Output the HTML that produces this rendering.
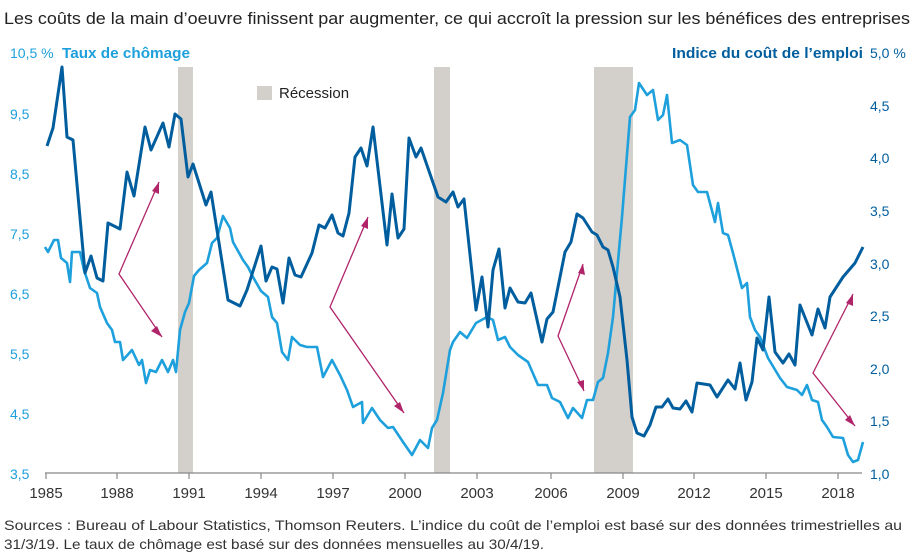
<!DOCTYPE html>
<html><head><meta charset="utf-8"><style>
body{margin:0;background:#fff;width:920px;height:554px;overflow:hidden;font-family:"Liberation Sans",sans-serif}
</style></head><body>
<svg width="920" height="554" xmlns="http://www.w3.org/2000/svg" font-family="Liberation Sans, sans-serif">
<text x="4" y="24" font-size="17" fill="#222" textLength="906" lengthAdjust="spacingAndGlyphs">Les coûts de la main d’oeuvre finissent par augmenter, ce qui accroît la pression sur les bénéfices des entreprises</text>
<g fill="#d3cfca">
<rect x="178" y="67" width="15" height="406"/>
<rect x="434" y="67" width="16" height="406"/>
<rect x="594" y="67" width="39" height="406"/>
<rect x="257" y="86" width="15" height="14"/>
</g>
<text x="279" y="98" font-size="15" fill="#222">Récession</text>
<g font-size="14" fill="#1ea0dc">
<text x="10" y="58">10,5 %</text><text x="62" y="58" font-weight="bold" font-size="15" textLength="128" lengthAdjust="spacingAndGlyphs">Taux de chômage</text>
<text x="10" y="119">9,5</text><text x="10" y="179">8,5</text><text x="10" y="239">7,5</text><text x="10" y="299">6,5</text><text x="10" y="359">5,5</text><text x="10" y="419">4,5</text><text x="10" y="479">3,5</text>
</g>
<g font-size="14" fill="#005e9e">
<text x="672" y="58" font-weight="bold" font-size="15" textLength="191" lengthAdjust="spacingAndGlyphs">Indice du coût de l’emploi</text>
<text x="870" y="58">5,0 %</text>
<text x="870" y="111">4,5</text><text x="870" y="163">4,0</text><text x="870" y="216">3,5</text><text x="870" y="269">3,0</text><text x="870" y="321">2,5</text><text x="870" y="374">2,0</text><text x="870" y="426">1,5</text><text x="870" y="479">1,0</text>
</g>
<line x1="45" y1="473" x2="862" y2="473" stroke="#888" stroke-width="1.2"/>
<g stroke="#888" stroke-width="1.2">
<line x1="46" y1="473" x2="46" y2="479"/><line x1="117" y1="473" x2="117" y2="479"/><line x1="189" y1="473" x2="189" y2="479"/><line x1="261" y1="473" x2="261" y2="479"/><line x1="333" y1="473" x2="333" y2="479"/><line x1="405" y1="473" x2="405" y2="479"/><line x1="477" y1="473" x2="477" y2="479"/><line x1="551" y1="473" x2="551" y2="479"/><line x1="623" y1="473" x2="623" y2="479"/><line x1="694" y1="473" x2="694" y2="479"/><line x1="766" y1="473" x2="766" y2="479"/><line x1="838" y1="473" x2="838" y2="479"/>
</g>
<g font-size="15" fill="#333" text-anchor="middle">
<text x="46" y="498">1985</text><text x="117" y="498">1988</text><text x="189" y="498">1991</text><text x="261" y="498">1994</text><text x="333" y="498">1997</text><text x="405" y="498">2000</text><text x="477" y="498">2003</text><text x="551" y="498">2006</text><text x="623" y="498">2009</text><text x="694" y="498">2012</text><text x="766" y="498">2015</text><text x="838" y="498">2018</text>
</g>
<polyline fill="none" stroke="#1ea0dc" stroke-width="2.6" stroke-linejoin="round" points="45,247 48,252 54,240 58,240 61,258 67,263 70,282 72,252 80,252 84,270 90,288 97,293 100,307 107,323 112,330 115,342 120,342 123,360 132,350 139,365 142,360 146,383 150,370 156,372 162,360 168,372 173,360 176,372 180,330 185,312 189,303 194,276 199,270 207,263 212,243 217,238 223,216 230,228 233,242 243,260 248,267 253,277 261,291 268,297 272,317 277,323 282,352 288,360 292,337 300,345 307,347 317,347 323,377 332,360 340,375 347,390 353,407 362,402 363,423 372,408 380,420 388,428 393,427 403,442 412,455 420,440 428,448 432,428 437,420 443,393 450,350 453,342 460,332 467,338 476,323 487,317 493,320 498,340 505,337 510,347 518,355 528,362 538,385 547,385 552,398 560,402 568,418 573,408 582,418 587,400 593,400 598,382 603,378 608,353 613,317 622,217 630,117 635,110 639,83 647,95 653,90 658,120 663,115 667,95 672,143 680,140 687,145 693,185 698,192 707,192 715,222 718,203 723,233 728,235 733,253 742,288 747,283 750,317 755,330 760,337 768,358 780,378 787,387 797,390 802,395 807,385 812,400 818,402 822,420 827,427 833,437 843,438 848,455 853,462 858,460 863,442"/>
<polyline fill="none" stroke="#005e9e" stroke-width="3" stroke-linejoin="round" points="47,146 53,128 62,67 67,137 73,140 85,273 91,256 97,278 103,281 108,223 120,229 127,172 134,196 145,127 151,150 163,123 169,147 175,114 181,119 188,177 193,164 206,205 211,192 228,300 240,306 247,290 261,246 266,281 272,267 277,269 283,303 289,258 295,275 301,277 312,253 319,225 325,228 332,215 338,233 343,236 349,213 355,157 361,148 367,166 373,127 387,245 392,194 398,238 404,229 409,138 416,157 421,148 438,197 446,202 453,192 458,207 464,199 476,310 482,277 488,327 493,270 499,249 505,308 510,288 518,302 525,303 531,293 542,342 547,319 553,312 565,252 571,242 577,214 583,218 592,232 597,235 603,247 608,250 613,267 620,297 627,360 632,417 637,433 644,436 650,425 656,407 662,407 668,399 673,408 680,409 686,401 692,412 697,383 710,385 717,397 728,380 735,389 740,363 746,400 752,382 757,338 763,350 769,297 775,352 783,363 789,354 795,365 800,305 812,335 818,309 825,328 830,297 843,277 855,263 863,247"/>
<g fill="none" stroke="#b0246a" stroke-width="1.3">
<polyline points="159,182 119,274 162,337"/>
<polyline points="368,217 330,307 404,413"/>
<polyline points="583,264 558,336 584,391"/>
<polyline points="853,294 813,373 855,426"/>
</g>
<g fill="#b0246a">
<polygon points="159,182 152,191 159,194"/>
<polygon points="162,337 151,331 157,326"/>
<polygon points="368,217 361,226 368,229"/>
<polygon points="404,413 394,406 400,402"/>
<polygon points="583,264 578,273 585,275"/>
<polygon points="584,391 577,382 584,380"/>
<polygon points="853,294 846,303 853,306"/>
<polygon points="855,426 845,420 850,415"/>
</g>
<text x="4" y="530" font-size="14" fill="#333" textLength="898" lengthAdjust="spacingAndGlyphs">Sources : Bureau of Labour Statistics, Thomson Reuters. L’indice du coût de l’emploi est basé sur des données trimestrielles au</text>
<text x="4" y="549" font-size="14" fill="#333" textLength="540" lengthAdjust="spacingAndGlyphs">31/3/19. Le taux de chômage est basé sur des données mensuelles au 30/4/19.</text>
</svg>
</body></html>
